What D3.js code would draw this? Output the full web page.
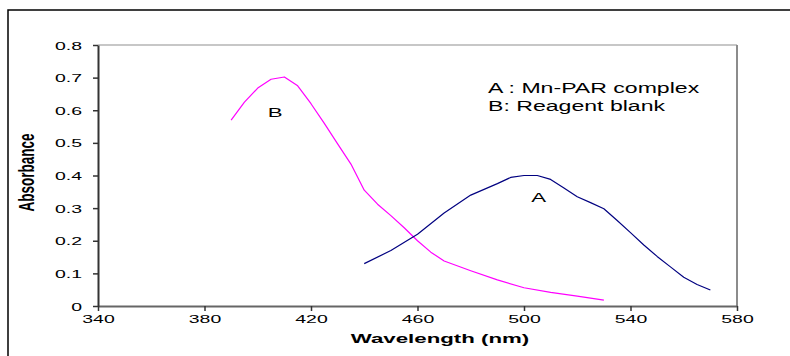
<!DOCTYPE html>
<html>
<head>
<meta charset="utf-8">
<script src="https://cdn.jsdelivr.net/npm/d3@7"></script>
<style>
  body { margin: 0; background: #fff; }
  svg text { font-family: Arial, "Liberation Sans", sans-serif; }
</style>
</head>
<body>
<div id="chart"></div>
<script>
// Curve A : Mn-PAR complex
const waveA = [440, 450, 460, 470, 480, 490, 495, 500, 505, 510, 515, 520, 525, 530, 535, 540, 545, 550, 555, 560, 565, 570];
const absA  = [0.13, 0.17, 0.22, 0.285, 0.34, 0.375, 0.394, 0.40, 0.40, 0.388, 0.362, 0.335, 0.317, 0.298, 0.262, 0.225, 0.187, 0.152, 0.12, 0.088, 0.066, 0.049];

// Curve B : Reagent blank
const waveB = [390, 395, 400, 405, 410, 415, 420, 425, 430, 435, 440, 445, 450, 455, 460, 465, 470, 480, 490, 500, 510, 520, 530];
const absB  = [0.57, 0.625, 0.668, 0.695, 0.702, 0.675, 0.62, 0.56, 0.497, 0.435, 0.355, 0.312, 0.277, 0.24, 0.20, 0.165, 0.138, 0.108, 0.08, 0.056, 0.042, 0.03, 0.018];

const xTicks = [340, 380, 420, 460, 500, 540, 580];
const yTicks = [0, 0.1, 0.2, 0.3, 0.4, 0.5, 0.6, 0.7, 0.8];
const legendLines = ['A : Mn-PAR complex', 'B: Reagent blank'];

const width = 790, height = 356;
const margin = { top: 45, left: 98, right: 53, bottom: 50 };
const innerW = width - margin.left - margin.right;
const innerH = height - margin.top - margin.bottom;
const sx = 1.65; // text in the source is stretched sideways

const svg = d3.select('#chart').append('svg')
    .attr('width', width)
    .attr('height', height);

// outer frame of the embedded chart
svg.append('rect')
    .attr('x', 8).attr('y', 10)
    .attr('width', 800).attr('height', 360)
    .attr('fill', 'none')
    .attr('stroke', '#000')
    .attr('stroke-width', 1.5);

const g = svg.append('g')
    .attr('transform', `translate(${margin.left},${margin.top})`);

const x = d3.scaleLinear().domain([340, 580]).range([0, innerW]);
const y = d3.scaleLinear().domain([0, 0.8]).range([innerH, 0]);

// plot area border (top light, right grey)
g.append('line')
    .attr('x1', 0).attr('x2', innerW)
    .attr('y1', y(0.8)).attr('y2', y(0.8))
    .attr('stroke', '#b4b4b4').attr('stroke-width', 1.5);
g.append('line')
    .attr('x1', innerW).attr('x2', innerW)
    .attr('y1', 0).attr('y2', innerH)
    .attr('stroke', '#8c8c8c').attr('stroke-width', 2);

// axes
const xAxis = g.append('g')
    .attr('transform', `translate(0,${innerH})`)
    .call(d3.axisBottom(x).tickValues(xTicks).tickSize(5).tickSizeOuter(0).tickFormat(d3.format('d')));
xAxis.select('.domain').attr('stroke', '#666').attr('stroke-width', 2);
xAxis.selectAll('.tick line').attr('stroke', '#333').attr('stroke-width', 1.5);
xAxis.selectAll('.tick text')
    .attr('y', 0).attr('dy', 0)
    .attr('transform', `translate(0,16.5) scale(${sx},1)`)
    .attr('font-size', 11.8).attr('fill', '#000');

const yAxis = g.append('g')
    .call(d3.axisLeft(y).tickValues(yTicks).tickSize(5).tickSizeOuter(0).tickFormat(d => d === 0 ? '0' : d3.format('.1f')(d)));
yAxis.select('.domain').attr('stroke', '#333').attr('stroke-width', 2);
yAxis.selectAll('.tick text')
    .attr('x', 0).attr('dy', 0)
    .attr('transform', `translate(-16,4) scale(${sx},1)`)
    .attr('font-size', 11.8).attr('fill', '#000');
yAxis.selectAll('.tick line').attr('stroke', '#333').attr('stroke-width', 1.5);

// curves (plain polylines, as in the source)
const line = d3.line()
    .x(d => x(d[0]))
    .y(d => y(d[1]));

g.append('path')
    .datum(d3.zip(waveB, absB))
    .attr('fill', 'none')
    .attr('stroke', '#ff00ff')
    .attr('stroke-width', 1.2)
    .attr('stroke-linejoin', 'round')
    .attr('d', line);

g.append('path')
    .datum(d3.zip(waveA, absA))
    .attr('fill', 'none')
    .attr('stroke', '#000080')
    .attr('stroke-width', 1.2)
    .attr('stroke-linejoin', 'round')
    .attr('d', line);

// curve labels
const stretchedText = (px, py, str, size, anchor) => g.append('text')
    .attr('transform', `translate(${px},${py}) scale(${sx},1)`)
    .attr('text-anchor', anchor)
    .attr('font-size', size)
    .attr('fill', '#000')
    .text(str);

stretchedText(x(406.5), y(0.58), 'B', 13.5, 'middle');
stretchedText(x(505.5), y(0.32), 'A', 13.5, 'middle');

legendLines.forEach((t, i) => {
    stretchedText(x(486.5), y(0.62) + i * 18 - 11, t, 14, 'start');
});

// axis titles
svg.append('text')
    .attr('transform', `translate(440,343) scale(${sx},1)`)
    .attr('text-anchor', 'middle')
    .attr('font-size', 13.5)
    .attr('font-weight', 'bold')
    .text('Wavelength (nm)');

svg.append('text')
    .attr('transform', `translate(34,${margin.top + innerH / 2 - 3}) scale(${sx},1) rotate(-90)`)
    .attr('text-anchor', 'middle')
    .attr('font-size', 13.5)
    .attr('font-weight', 'bold')
    .text('Absorbance');
</script>
</body>
</html>
